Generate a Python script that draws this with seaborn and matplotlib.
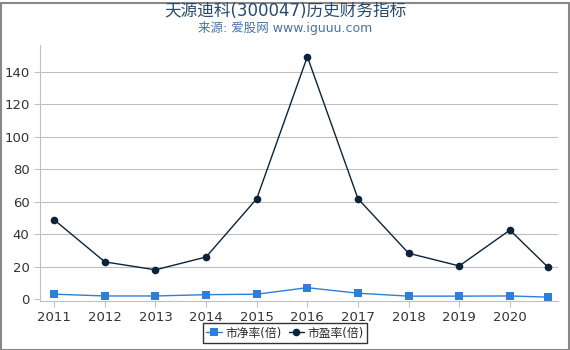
import matplotlib
matplotlib.use("Agg")
import matplotlib.pyplot as plt
import seaborn as sns
import pandas as pd

years = [2011, 2012, 2013, 2014, 2015, 2016, 2017, 2018, 2019, 2020, 2020.75]
tick_years = [2011, 2012, 2013, 2014, 2015, 2016, 2017, 2018, 2019, 2020]
pb = [3.0, 1.9, 1.9, 2.7, 3.0, 7.0, 3.6, 1.8, 1.8, 1.9, 1.2]
pe = [48.8, 22.9, 18.0, 25.9, 61.8, 149.3, 61.8, 28.2, 20.4, 42.5, 19.7]
pb_label = "市净率(倍)"
pe_label = "市盈率(倍)"
title = "天源迪科(300047)历史财务指标"
subtitle = "来源: 爱股网 www.iguuu.com"

sns.set_theme(style="white")
plt.rcParams['font.family'] = ['DejaVu Sans', 'Noto Sans CJK SC']

df = pd.DataFrame({"year": years, "pb": pb, "pe": pe})

fig = plt.figure(figsize=(5.7, 3.5), dpi=100)
ax = fig.add_axes([40/570, 1-301/350, 518/570, 256/350])

for y in [20, 40, 60, 80, 100, 120, 140]:
    ax.axhline(y, color="#c0c0c0", lw=0.8, zorder=0)

sns.lineplot(data=df, x="year", y="pb", ax=ax, color="#2f7ed8", marker="s",
             markersize=5.5, markeredgewidth=0, lw=1, label=pb_label)
sns.lineplot(data=df, x="year", y="pe", ax=ax, color="#0d233a", marker="o",
             markersize=5.5, markeredgewidth=0, lw=1, label=pe_label)

ax.set_xlim(2010.72, 2020.95)
ax.set_ylim(-1.2, 156.5)
ax.set_xticks(tick_years)
ax.set_xticklabels([str(y) for y in tick_years])
ax.set_yticks([0, 20, 40, 60, 80, 100, 120, 140])
ax.set_xlabel("")
ax.set_ylabel("")
for s in ["top", "right"]:
    ax.spines[s].set_visible(False)
for s in ["left", "bottom"]:
    ax.spines[s].set_color("#c0c0c0")
    ax.spines[s].set_linewidth(0.8)
ax.tick_params(axis="both", colors="#c0c0c0", labelcolor="#333333", labelsize=9.5,
               length=4, width=0.8, left=True, bottom=True)

handles, labels = ax.get_legend_handles_labels()
ax.get_legend().remove()
leg = fig.legend(handles, labels, loc="lower center", bbox_to_anchor=(0.5, 1/350),
                 ncol=2, frameon=True, fontsize=8.5, handlelength=1.3,
                 handletextpad=0.3, columnspacing=0.6, borderpad=0.3, fancybox=False)
leg.get_frame().set_edgecolor("black")
leg.get_frame().set_linewidth(1)

fig.text(0.5, 1-11/350, title, ha="center", va="center", fontsize=12, color="#274b6d")
fig.text(0.5, 1-28/350, subtitle, ha="center", va="center", fontsize=9, color="#4572a7")

border = plt.Rectangle((0.5/570, 0.5/350), 568/570, 347/350, transform=fig.transFigure,
                       fill=False, edgecolor="#888888", lw=1.5)
fig.patches.append(border)

fig.savefig("out.png", dpi=100)
